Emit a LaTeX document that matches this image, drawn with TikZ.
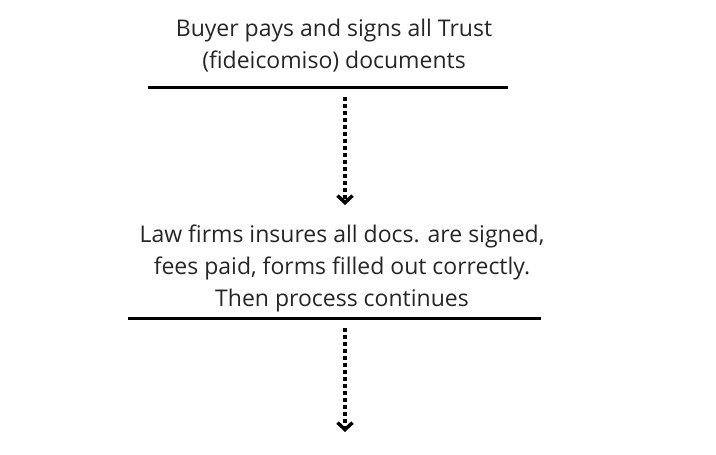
\documentclass[tikz,border=0pt]{standalone}
\usepackage{fontspec}
\setmainfont{Open Sans}
\usetikzlibrary{arrows.meta}
\begin{document}
\begin{tikzpicture}[x=1pt,y=1pt,
  lbl/.style={align=center,font=\fontsize{23}{32}\selectfont,inner sep=0pt,text=black!85},
  bar/.style={line width=3pt},
  dotarrow/.style={line width=4pt,dash pattern=on 4pt off 3pt,-{Straight Barb[length=7pt,width=15pt,line width=3.5pt]}}]
\useasboundingbox (0,0) rectangle (716,455);
\node[lbl] (t1) at (334,455-46) {Buyer pays and signs all Trust\\(fideicomiso) documents};
\coordinate (l1a) at (148,455-88); \coordinate (l1b) at (508,455-88);
\draw[bar] (l1a) -- (l1b);
\coordinate (a1s) at (345,455-97); \coordinate (a1e) at (345,455-205);
\draw[dotarrow] (a1s) -- (a1e);
\node[lbl] (t2) at (342,455-268) {Law firms insures all docs. are signed,\\fees paid, forms filled out correctly.\\Then process continues};
\coordinate (l2a) at (128,455-319); \coordinate (l2b) at (541,455-319);
\draw[bar] (l2a) -- (l2b);
\coordinate (a2s) at (345,455-328); \coordinate (a2e) at (345,455-432);
\draw[dotarrow] (a2s) -- (a2e);
\end{tikzpicture}
\end{document}
